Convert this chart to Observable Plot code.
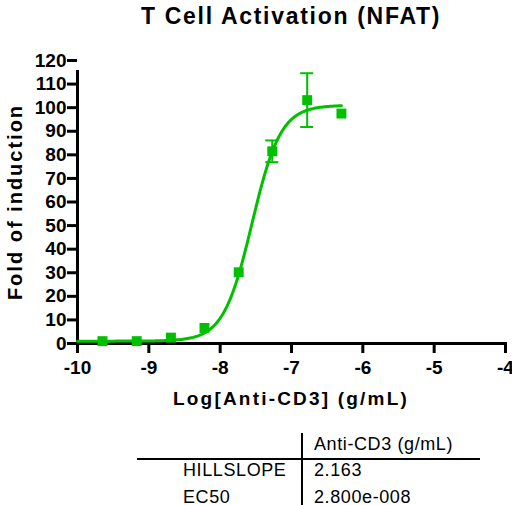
<!DOCTYPE html>
<html>
<head>
<meta charset="utf-8">
<script src="https://cdn.jsdelivr.net/npm/d3@7"></script>
<script src="https://cdn.jsdelivr.net/npm/@observablehq/plot@0.6"></script>
<style>
  html, body { margin: 0; padding: 0; background: #fff; }
  #wrap { position: relative; width: 512px; height: 505px; overflow: hidden; font-family: "Liberation Sans", Arial, sans-serif; color: #000; }
  #wrap svg { position: absolute; left: 0; top: 0; }
  .abs { position: absolute; white-space: nowrap; line-height: 1; }
  #title { left: 291px; top: 5px; transform: translateX(-50%); font-size: 23px; font-weight: bold; letter-spacing: 1.7px; }
  #xlab { left: 291px; top: 389px; transform: translateX(-50%); font-size: 19px; font-weight: bold; letter-spacing: 2.2px; }
  #ylab { left: 15px; top: 202px; transform: translate(-50%, -50%) rotate(-90deg); font-size: 20px; font-weight: bold; letter-spacing: 2.0px; }
  .tcell { font-size: 18px; letter-spacing: 0.6px; }
  .line { position: absolute; background: #000; }
</style>
</head>
<body>
<div id="wrap">
  <div id="title" class="abs"></div>
  <div id="xlab" class="abs"></div>
  <div id="ylab" class="abs"></div>
</div>
<script>
// ---- data ----
const chartTitle = "T Cell Activation (NFAT)";
const xLabel = "Log[Anti-CD3] (g/mL)";
const yLabel = "Fold of induction";
const logConc = [-9.65, -9.17, -8.69, -8.22, -7.74, -7.27, -6.78, -6.30];
const fold    = [1.0, 1.0, 2.5, 6.6, 30.2, 81.5, 103.2, 97.5];
const errBar  = [0, 0, 0, 0, 0, 4.6, 11.4, 0];
const xTicks = [-10, -9, -8, -7, -6, -5, -4];
const yTicks = [0, 10, 20, 30, 40, 50, 60, 70, 80, 90, 100, 110, 120];
// fit parameters (table) and plateaus estimated from the curve
const tableHeader = "Anti-CD3 (g/mL)";
const tableRows = ["HILLSLOPE", "EC50"];
const tableValues = ["2.163", "2.800e-008"];
const hillSlope = 2.163;
const ec50 = 2.800e-8;
const fitBottom = 1.0;
const fitTop = 101.0;
const fitRange = [-10, -6.3];

const green = "#00c000";
const points = logConc.map((x, i) => ({x, y: fold[i], lo: fold[i] - errBar[i], hi: fold[i] + errBar[i], e: errBar[i]}));
const logEC50 = Math.log10(ec50);
const curve = d3.range(fitRange[0], fitRange[1] + 1e-9, 0.02).map(x => ({x, y: fitBottom + (fitTop - fitBottom) / (1 + Math.pow(10, (logEC50 - x) * hillSlope))}));
const errPts = points.filter(d => d.e > 0);
const axisFont = {fontSize: 19, fontWeight: "bold", letterSpacing: 0.5};

const chart = Plot.plot({
  width: 512,
  height: 420,
  marginLeft: 77,
  marginRight: 7,
  marginTop: 60,
  marginBottom: 77,
  style: {fontFamily: "'Liberation Sans', Arial, sans-serif", background: "transparent", overflow: "visible"},
  x: {type: "linear", domain: [-10, -4]},
  y: {type: "linear", domain: [0, 120]},
  marks: [
    Plot.axisX({ticks: xTicks, tickSize: 10, tickPadding: 7, strokeWidth: 3, tickFormat: d => String(d), label: null, ...axisFont}),
    Plot.axisY({ticks: yTicks, tickSize: 10, tickPadding: 1, strokeWidth: 3, tickFormat: d => String(d), label: null, ...axisFont}),
    Plot.ruleY([0], {x1: -10, x2: -4, stroke: "black", strokeWidth: 3, insetRight: -2, insetLeft: -1.5}),
    Plot.ruleX([-10], {y1: 0, y2: 120, stroke: "black", strokeWidth: 3, insetBottom: -10, insetTop: -1}),
    Plot.line(curve, {x: "x", y: "y", stroke: green, strokeWidth: 3}),
    Plot.ruleX(errPts, {x: "x", y1: "lo", y2: "hi", stroke: green, strokeWidth: 2}),
    Plot.ruleY(errPts, {y: "hi", x1: "x", x2: "x", insetLeft: -6.5, insetRight: -6.5, stroke: green, strokeWidth: 2}),
    Plot.ruleY(errPts, {y: "lo", x1: "x", x2: "x", insetLeft: -6.5, insetRight: -6.5, stroke: green, strokeWidth: 2}),
    Plot.dot(points, {x: "x", y: "y", symbol: "square", r: 5.6, fill: green, stroke: "none"})
  ]
});
document.getElementById("wrap").appendChild(chart);

document.getElementById("title").textContent = chartTitle;
document.getElementById("xlab").textContent = xLabel;
document.getElementById("ylab").textContent = yLabel;

// table
const wrap = document.getElementById("wrap");
function addText(txt, left, top, cls) {
  const d = document.createElement("div");
  d.className = "abs " + cls;
  d.style.left = left + "px";
  d.style.top = top + "px";
  d.textContent = txt;
  wrap.appendChild(d);
}
function addLine(left, top, w, h) {
  const d = document.createElement("div");
  d.className = "line";
  Object.assign(d.style, {left: left + "px", top: top + "px", width: w + "px", height: h + "px"});
  wrap.appendChild(d);
}
addLine(301, 433, 2, 72);
addLine(137, 458, 343, 2);
addText(tableHeader, 314, 435, "tcell");
tableRows.forEach((r, i) => {
  addText(r, 183, 461 + i * 26.5, "tcell");
  addText(tableValues[i], 314, 461 + i * 26.5, "tcell");
});
</script>
</body>
</html>
